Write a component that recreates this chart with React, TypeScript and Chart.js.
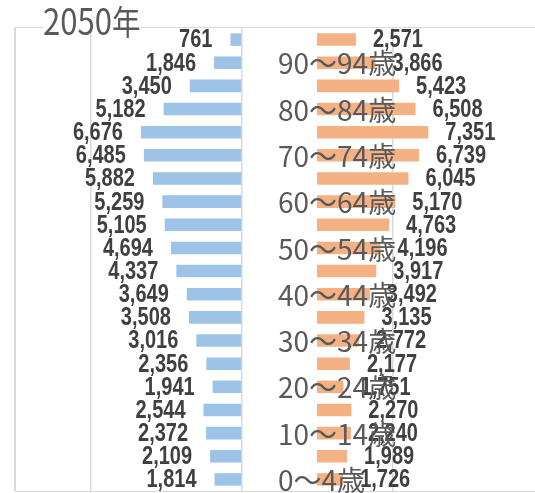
import React, { useEffect, useRef } from "react";
import { Chart, registerables } from "chart.js";

Chart.register(...registerables);

// Categories listed top to bottom as drawn
const ageLabels = [
  "95歳以上", "90～94歳", "85～89歳", "80～84歳", "75～79歳",
  "70～74歳", "65～69歳", "60～64歳", "55～59歳", "50～54歳",
  "45～49歳", "40～44歳", "35～39歳", "30～34歳", "25～29歳",
  "20～24歳", "15～19歳", "10～14歳", "5～9歳", "0～4歳",
];
const maleValues = [
  761, 1846, 3450, 5182, 6676, 6485, 5882, 5259, 5105, 4694,
  4337, 3649, 3508, 3016, 2356, 1941, 2544, 2372, 2109, 1814,
];
const femaleValues = [
  2571, 3866, 5423, 6508, 7351, 6739, 6045, 5170, 4763, 4196,
  3917, 3492, 3135, 2772, 2177, 1751, 2270, 2240, 1989, 1726,
];
const leftGridValues = [0, 10000, 15000];
const rightGridValues = [5000];
const titleYear = "2050";
const titleSuffix = "年";

const BLUE = "#9DC3E6";
const ORANGE = "#F4B183";
const GRID = "#d9d9d9";
const NUM_FONT = '"Liberation Sans", Arial, sans-serif';

function valueLabelPlugin(side: "left" | "right") {
  return {
    id: "valueLabels_" + side,
    afterDatasetsDraw(chart: any) {
      const ctx = chart.ctx;
      const meta = chart.getDatasetMeta(0);
      const data = chart.data.datasets[0].data as number[];
      const sx = 0.8;
      ctx.save();
      ctx.font = "bold 25px " + NUM_FONT;
      ctx.fillStyle = "#404040";
      ctx.textBaseline = "middle";
      meta.data.forEach((bar: any, i: number) => {
        const text = data[i].toLocaleString("en-US");
        ctx.save();
        if (side === "left") {
          ctx.translate(bar.x - 18, bar.y + 1);
          ctx.scale(sx, 1);
          ctx.textAlign = "right";
        } else {
          ctx.translate(bar.x + 17, bar.y + 1);
          ctx.scale(sx, 1);
          ctx.textAlign = "left";
        }
        ctx.fillText(text, 0, 0);
        ctx.restore();
      });
      ctx.restore();
    },
  };
}

export default function App() {
  const leftRef = useRef<HTMLCanvasElement | null>(null);
  const rightRef = useRef<HTMLCanvasElement | null>(null);

  useEffect(() => {
    const left = new Chart(leftRef.current as HTMLCanvasElement, {
      type: "bar",
      data: {
        labels: ageLabels,
        datasets: [
          {
            data: maleValues,
            backgroundColor: BLUE,
            categoryPercentage: 1,
            barPercentage: 0.54,
          },
        ],
      },
      plugins: [valueLabelPlugin("left")],
      options: {
        indexAxis: "y",
        animation: false,
        responsive: false,
        devicePixelRatio: 1,
        layout: { padding: { left: 15, right: 18, top: 28, bottom: 2 } },
        plugins: { legend: { display: false }, tooltip: { enabled: false } },
        scales: {
          x: {
            type: "linear",
            reverse: true,
            min: 0,
            max: 15000,
            ticks: { display: false },
            border: { display: false },
            grid: { color: GRID, lineWidth: 1.5, drawTicks: false },
            afterBuildTicks: (scale: any) => {
              scale.ticks = leftGridValues.map((v) => ({ value: v }));
            },
          },
          y: { display: false },
        },
      },
    } as any);

    const right = new Chart(rightRef.current as HTMLCanvasElement, {
      type: "bar",
      data: {
        labels: ageLabels,
        datasets: [
          {
            data: femaleValues,
            backgroundColor: ORANGE,
            categoryPercentage: 1,
            barPercentage: 0.54,
          },
        ],
      },
      plugins: [valueLabelPlugin("right")],
      options: {
        indexAxis: "y",
        animation: false,
        responsive: false,
        devicePixelRatio: 1,
        layout: { padding: { left: 18, right: 0, top: 28, bottom: 2 } },
        plugins: { legend: { display: false }, tooltip: { enabled: false } },
        scales: {
          x: {
            type: "linear",
            min: 0,
            max: 14400,
            ticks: { display: false },
            border: { display: false },
            grid: { color: GRID, lineWidth: 1.5, drawTicks: false },
            afterBuildTicks: (scale: any) => {
              scale.ticks = rightGridValues.map((v) => ({ value: v }));
            },
          },
          y: {
            grid: { display: false, drawTicks: false },
            border: { display: false },
            ticks: {
              autoSkip: false,
              mirror: true,
              crossAlign: "near",
              color: "#595959",
              font: { family: '"Noto Sans CJK JP", sans-serif', size: 28 },
              padding: -39,
              labelOffset: 1,
              z: 1,
              callback: (_v: any, i: number) => (i % 2 === 1 ? ageLabels[i] : ""),
            },
            afterFit: (scale: any) => {
              scale.width = 39;
              scale.paddingTop = 0;
              scale.paddingBottom = 0;
            },
          },
        },
      },
    } as any);

    return () => {
      left.destroy();
      right.destroy();
    };
  }, []);

  return (
    <div
      style={{
        position: "fixed",
        left: 0,
        top: 0,
        width: 535,
        height: 493,
        background: "#fff",
        overflow: "hidden",
      }}
    >
      <div
        style={{
          position: "absolute",
          left: 15,
          top: 27,
          width: 540,
          height: 463,
          border: "1.5px solid " + GRID,
        }}
      />
      <canvas
        ref={leftRef}
        width={260}
        height={493}
        style={{ position: "absolute", left: 0, top: 0, width: 260, height: 493 }}
      />
      <canvas
        ref={rightRef}
        width={275}
        height={493}
        style={{ position: "absolute", left: 260, top: 0, width: 275, height: 493 }}
      />
      <div
        style={{
          position: "absolute",
          left: 43,
          top: 0,
          height: 32,
          lineHeight: "38px",
          background: "#fff",
          color: "#595959",
          fontFamily: '"Noto Sans CJK JP", sans-serif',
          fontSize: 37,
          whiteSpace: "nowrap",
          transform: "scaleX(0.84)",
          transformOrigin: "left top",
        }}
      >
        {titleYear}
        <span style={{ fontSize: 34 }}>{titleSuffix}</span>
      </div>
    </div>
  );
}
